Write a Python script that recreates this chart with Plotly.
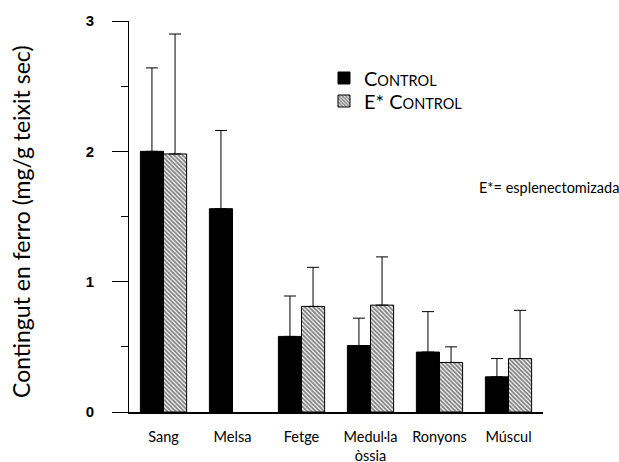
import plotly.graph_objects as go

categories = ["Sang", "Melsa", "Fetge", "Medul·la<br>òssia", "Ronyons", "Múscul"]
control_mean = [2.00, 1.56, 0.58, 0.51, 0.46, 0.27]
control_sd = [0.64, 0.60, 0.31, 0.21, 0.31, 0.14]
espl_mean = [1.98, None, 0.81, 0.82, 0.38, 0.41]
espl_sd = [0.92, None, 0.30, 0.37, 0.12, 0.37]
y_ticks = [0, 1, 2, 3]

fig = go.Figure()
fig.add_trace(go.Bar(
    x=categories, y=control_mean, name="C<span style='font-size:14.5px'>ONTROL</span>",
    legend="legend",
    marker=dict(color="black", line=dict(color="black", width=1)),
    error_y=dict(type="data", symmetric=False, array=control_sd,
                 arrayminus=[0] * len(control_sd), color="black", thickness=1, width=6),
))
fig.add_trace(go.Bar(
    x=categories, y=espl_mean, name="E* C<span style='font-size:14.5px'>ONTROL</span>",
    legend="legend2",
    marker=dict(color="white", line=dict(color="black", width=1),
                pattern=dict(shape="\\", fgcolor="black", bgcolor="white", size=3, solidity=0.6)),
    error_y=dict(type="data", symmetric=False, array=espl_sd,
                 arrayminus=[0] * len(espl_sd), color="black", thickness=1, width=6),
))

legend_style = dict(xanchor="left", yanchor="middle",
                    font=dict(family="Lato", size=20, color="black"),
                    bgcolor="rgba(0,0,0,0)", itemclick=False)

fig.update_layout(
    width=619, height=462,
    margin=dict(l=129, r=76, t=21, b=50),
    paper_bgcolor="white", plot_bgcolor="white",
    barmode="group", bargap=0.33, bargroupgap=0,
    showlegend=True,
    legend=dict(x=0.471, y=1 - (78 - 21) / 391, **legend_style),
    legend2=dict(x=0.471, y=1 - (101 - 21) / 391, **legend_style),
    font=dict(family="Lato", color="black"),
)
fig.update_xaxes(
    type="category", range=[-0.5, 5.5], showline=True, linecolor="black", linewidth=1.5,
    ticks="", showgrid=False, tickfont=dict(family="Lato", size=14.5, color="black"),
    ticklabelstandoff=11, automargin=False,
)
fig.update_yaxes(
    range=[0, 3], tickvals=y_ticks, showline=True, linecolor="black", linewidth=1,
    ticks="outside", ticklen=16, tickwidth=1, tickcolor="black",
    minor=dict(dtick=0.5, ticks="outside", ticklen=7, tickcolor="black", tickwidth=1),
    showgrid=False, zeroline=False, automargin=False,
    tickfont=dict(family="Liberation Sans", size=15, color="black", weight="bold"),
    ticklabelstandoff=15,
)
fig.add_annotation(
    text="Contingut en ferro (mg/g teixit sec)", textangle=-90,
    xref="paper", yref="paper", x=(21 - 129) / 414, y=1 - (222 - 21) / 391,
    xanchor="center", yanchor="middle", showarrow=False,
    font=dict(family="Lato", size=23, color="black"),
)
fig.add_annotation(
    text="E*= esplenectomizada",
    xref="paper", yref="paper", x=(477 - 129) / 414, y=1 - (187 - 21) / 391,
    xanchor="left", yanchor="middle", showarrow=False,
    font=dict(family="Lato", size=14.5, color="black"),
)
fig.write_html("out.html")
